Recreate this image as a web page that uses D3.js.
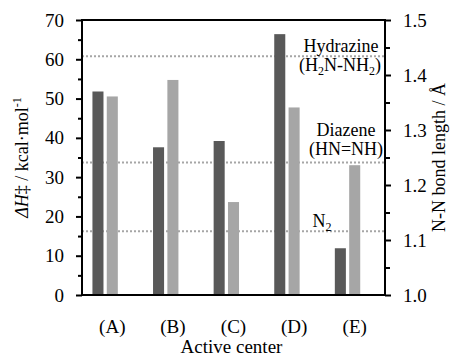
<!DOCTYPE html>
<html>
<head>
<meta charset="utf-8">
<script src="https://cdn.jsdelivr.net/npm/d3@7"></script>
<style>
	body { margin: 0; background: #fff; }
</style>
</head>
<body>
<div id="chart"></div>
<script>
// chart data
const categories = ["(A)", "(B)", "(C)", "(D)", "(E)"];
const enthalpy = [51.8, 37.6, 39.2, 66.4, 11.9]; // kcal/mol, left axis
const bond_length = [1.361, 1.391, 1.169, 1.341, 1.236]; // angstrom, right axis
const ref_names = ["hydrazine", "diazene", "n2"];
const ref_lengths = [1.434, 1.241, 1.116];
const left_ticks = [0, 10, 20, 30, 40, 50, 60, 70];
const left_minor = [5, 15, 25, 35, 45, 55, 65];
const right_ticks = [1.0, 1.1, 1.2, 1.3, 1.4, 1.5];
const right_minor = [1.05, 1.15, 1.25, 1.35, 1.45];

const serif = "'Liberation Serif', 'Times New Roman', 'DejaVu Serif', serif";

const width = 457,
	height = 356;
const margin = { top: 20, right: 72, bottom: 61, left: 82 };
const plot_w = width - margin.left - margin.right,
	plot_h = height - margin.top - margin.bottom;

const svg = d3
	.select("#chart")
	.append("svg")
	.attr("width", width)
	.attr("height", height)
	.attr("font-family", serif);

const g = svg
	.append("g")
	.attr("transform", "translate(" + margin.left + "," + margin.top + ")");

// scales
const x0 = d3
	.scaleBand()
	.domain(categories)
	.range([0, plot_w])
	.paddingInner(0.29)
	.paddingOuter(0.145);
// third slot is empty, like the original spreadsheet chart
const x1 = d3
	.scaleBand()
	.domain(["dh", "bond", "empty"])
	.range([0, x0.bandwidth()])
	.paddingInner(0.23)
	.paddingOuter(0.115);
const y_left = d3.scaleLinear().domain([0, 70]).range([plot_h, 0]);
const y_right = d3.scaleLinear().domain([1.0, 1.5]).range([plot_h, 0]);

// dotted reference lines
g.selectAll("line.ref")
	.data(ref_lengths)
	.enter()
	.append("line")
	.attr("class", "ref")
	.attr("x1", 0)
	.attr("x2", plot_w)
	.attr("y1", (d) => y_right(d))
	.attr("y2", (d) => y_right(d))
	.style("stroke", "#a6a6a6")
	.style("stroke-width", 2)
	.style("stroke-dasharray", "2,2");

// bars
const groups = g
	.selectAll("g.cat")
	.data(categories)
	.enter()
	.append("g")
	.attr("class", "cat")
	.attr("transform", (d) => "translate(" + x0(d) + ",0)");

groups
	.append("rect")
	.attr("x", x1("dh"))
	.attr("width", x1.bandwidth())
	.attr("y", (d, i) => y_left(enthalpy[i]))
	.attr("height", (d, i) => plot_h - y_left(enthalpy[i]))
	.style("fill", "#595959");

groups
	.append("rect")
	.attr("x", x1("bond"))
	.attr("width", x1.bandwidth())
	.attr("y", (d, i) => y_right(bond_length[i]))
	.attr("height", (d, i) => plot_h - y_right(bond_length[i]))
	.style("fill", "#a6a6a6");

// axes
function style_axis(sel) {
	sel.attr("font-family", serif).attr("font-size", 19);
	sel.select(".domain").remove();
	sel.selectAll("line").style("stroke", "#000").style("stroke-width", 2);
}

g.append("g")
	.call(d3.axisLeft(y_left).tickValues(left_minor).tickSize(4).tickFormat(""))
	.call(style_axis);
g.append("g")
	.call(
		d3.axisLeft(y_left).tickValues(left_ticks).tickSize(6).tickPadding(12).tickFormat(d3.format("d"))
	)
	.call(style_axis);

g.append("g")
	.attr("transform", "translate(" + plot_w + ",0)")
	.call(d3.axisRight(y_right).tickValues(right_minor).tickSize(5).tickFormat(""))
	.call(style_axis);
g.append("g")
	.attr("transform", "translate(" + plot_w + ",0)")
	.call(
		d3.axisRight(y_right).tickValues(right_ticks).tickSize(6).tickPadding(12).tickFormat(d3.format(".1f"))
	)
	.call(style_axis);

g.append("g")
	.attr("transform", "translate(0," + plot_h + ")")
	.call(d3.axisBottom(x0).tickSize(0).tickPadding(25))
	.call(style_axis);

// plot frame
g.append("rect")
	.attr("width", plot_w)
	.attr("height", plot_h)
	.style("fill", "none")
	.style("stroke", "#000")
	.style("stroke-width", 2);

// reference labels
const ref_label = g.append("g").attr("font-size", 18).attr("text-anchor", "middle");

let t = ref_label.append("text").attr("x", 259).attr("y", y_right(ref_lengths[0]) - 4).text("Hydrazine");
t = ref_label.append("text").attr("x", 258).attr("y", y_right(ref_lengths[0]) + 15);
t.append("tspan").text("(H");
t.append("tspan").attr("dy", 4).attr("font-size", 12).text("2");
t.append("tspan").attr("dy", -4).text("N-NH");
t.append("tspan").attr("dy", 4).attr("font-size", 12).text("2");
t.append("tspan").attr("dy", -4).text(")");

ref_label.append("text").attr("x", 264).attr("y", y_right(ref_lengths[1]) - 26).text("Diazene");
ref_label.append("text").attr("x", 264).attr("y", y_right(ref_lengths[1]) - 7).text("(HN=NH)");

t = ref_label.append("text").attr("x", 240).attr("y", y_right(ref_lengths[2]) - 4);
t.append("tspan").text("N");
t.append("tspan").attr("dy", 4).attr("font-size", 12).text("2");

// axis titles
const title_left = svg
	.append("text")
	.attr("transform", "translate(28," + (margin.top + plot_h / 2) + ") rotate(-90)")
	.attr("text-anchor", "middle")
	.attr("font-size", 18);
title_left.append("tspan").attr("font-style", "italic").text("ΔH");
title_left.append("tspan").text("‡ / kcal·mol");
title_left.append("tspan").attr("dy", -7).attr("font-size", 12).text("-1");

svg.append("text")
	.attr("transform", "translate(445," + (margin.top + plot_h / 2) + ") rotate(-90)")
	.attr("text-anchor", "middle")
	.attr("font-size", 18)
	.text("N-N bond length / Å");

svg.append("text")
	.attr("x", margin.left + plot_w / 2 - 2)
	.attr("y", 353)
	.attr("text-anchor", "middle")
	.attr("font-size", 19)
	.text("Active center");
</script>
</body>
</html>
